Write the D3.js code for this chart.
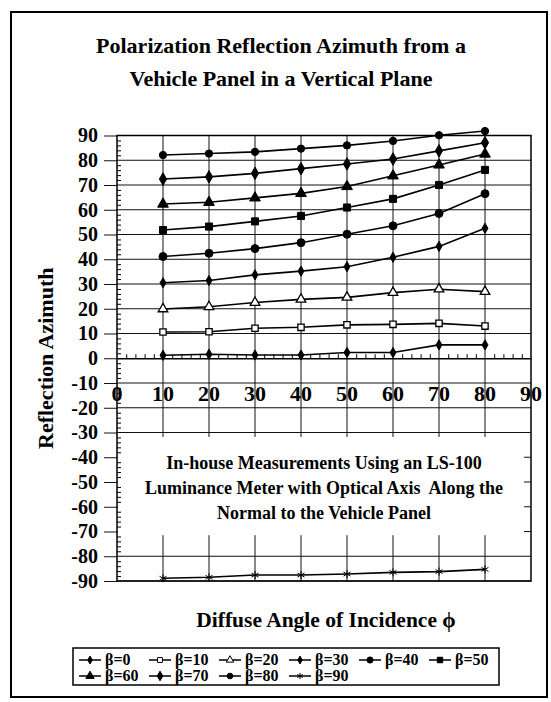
<!DOCTYPE html>
<html>
<head>
<meta charset="utf-8">
<style>
  body { margin: 0; background: #fff; }
  svg { display: block; font-family: 'Liberation Serif', 'Times New Roman', serif; font-weight: bold; }
  .grid line { stroke: #111; stroke-width: 1; }
  .series { fill: none; stroke: #000; stroke-width: 1.6; }
</style>
</head>
<body>
<svg id="chart" width="551" height="702"></svg>
<script src="https://d3js.org/d3.v7.min.js"></script>
<script>
// diffuse angle of incidence (x)
const angles = [10, 20, 30, 40, 50, 60, 70, 80];
// beta values for each series
const betas = [0, 10, 20, 30, 40, 50, 60, 70, 80, 90];
// reflection azimuth
const beta0  = [1.2, 1.6, 1.3, 1.3, 2.3, 2.3, 5.4, 5.4];
const beta10 = [10.6, 10.7, 12.1, 12.5, 13.5, 13.7, 14.1, 13.0];
const beta20 = [19.9, 20.8, 22.5, 23.8, 24.6, 26.5, 27.9, 26.9];
const beta30 = [30.5, 31.4, 33.7, 35.2, 37.0, 40.8, 45.2, 52.5];
const beta40 = [41.1, 42.4, 44.3, 46.7, 50.1, 53.5, 58.5, 66.5];
const beta50 = [51.8, 53.2, 55.3, 57.5, 60.9, 64.4, 70.0, 76.1];
const beta60 = [62.3, 63.0, 64.8, 66.6, 69.4, 73.7, 78.1, 82.5];
const beta70 = [72.4, 73.3, 74.7, 76.6, 78.5, 80.5, 83.8, 87.1];
const beta80 = [82.1, 82.7, 83.4, 84.7, 86.0, 87.8, 90.1, 91.8];
const beta90 = [-88.9, -88.5, -87.6, -87.6, -87.2, -86.5, -86.2, -85.3];
const seriesValues = [beta0, beta10, beta20, beta30, beta40, beta50, beta60, beta70, beta80, beta90];

const xTicks = [0, 10, 20, 30, 40, 50, 60, 70, 80, 90];
const yTicks = [90, 80, 70, 60, 50, 40, 30, 20, 10, 0, -10, -20, -30, -40, -50, -60, -70, -80, -90];

const titleLines = ["Polarization Reflection Azimuth from a", "Vehicle Panel in a Vertical Plane"];
const noteLines = ["In-house Measurements Using an LS-100",
                   "Luminance Meter with Optical Axis  Along the",
                   "Normal to the Vehicle Panel"];

// marker look per series (style, not data)
const markers = [
  {sym: d3.symbolDiamond, size: 30, fill: "#000"},
  {sym: d3.symbolSquare, size: 40, fill: "#fff"},
  {sym: d3.symbolTriangle, size: 40, fill: "#fff"},
  {sym: d3.symbolDiamond, size: 30, fill: "#000"},
  {sym: d3.symbolCircle, size: 50, fill: "#000"},
  {sym: d3.symbolSquare, size: 50, fill: "#000"},
  {sym: d3.symbolTriangle, size: 50, fill: "#000"},
  {sym: d3.symbolDiamond, size: 45, fill: "#000"},
  {sym: d3.symbolCircle, size: 42, fill: "#000"},
  {sym: d3.symbolAsterisk, size: 45, fill: "none"}
];

const svg = d3.select("#chart");

const x = d3.scaleLinear().domain([0, 90]).range([117, 531]);
const y = d3.scaleLinear().domain([-90, 90]).range([581, 135.5]);

// outer frame
svg.append("rect")
  .attr("x", 11).attr("y", 12).attr("width", 536).attr("height", 685)
  .attr("fill", "none").attr("stroke", "#000").attr("stroke-width", 2);

// title
svg.append("g").selectAll("text")
  .data(titleLines)
  .join("text")
  .attr("x", 281)
  .attr("y", (d, i) => 53 + i * 33)
  .attr("text-anchor", "middle")
  .attr("font-size", "22px")
  .text(d => d);

// grid
const grid = svg.append("g").attr("class", "grid");
grid.selectAll(".h")
  .data(yTicks.filter(v => v !== 0))
  .join("line")
  .attr("x1", x(0)).attr("x2", x(90))
  .attr("y1", d => y(d)).attr("y2", d => y(d));
grid.selectAll(".v")
  .data(xTicks.filter(v => v > 0 && v < 90))
  .join("line")
  .attr("x1", d => x(d)).attr("x2", d => x(d))
  .attr("y1", y(90)).attr("y2", y(-90));

// white box behind the note
svg.append("rect")
  .attr("x", x(0) + 1).attr("y", y(-31.8))
  .attr("width", x(88.5) - x(0) - 1)
  .attr("height", y(-71.5) - y(-31.8))
  .attr("fill", "#fff");

// y axis, major ticks outside
const minorY = d3.range(-88, 89, 2).filter(v => v % 10 !== 0);
svg.append("g")
  .attr("transform", `translate(${x(0)},0)`)
  .call(d3.axisLeft(y).tickValues(yTicks).tickSize(13).tickPadding(6).tickFormat(d => String(d)))
  .call(g => g.select(".domain").remove())
  .call(g => g.selectAll(".tick line").attr("stroke", "#111"))
  .call(g => g.selectAll("text")
    .attr("font-family", "'Liberation Serif', 'Times New Roman', serif")
    .attr("font-weight", "bold")
    .attr("font-size", "20px")
    .attr("fill", "#000"));
// y minor ticks inside
svg.append("g")
  .attr("transform", `translate(${x(0)},0)`)
  .call(d3.axisRight(y).tickValues(minorY).tickSize(4).tickFormat(""))
  .call(g => g.select(".domain").remove());

// x axis along zero with minor ticks upward
const minorX = d3.range(2, 90, 2).filter(v => v % 10 !== 0);
svg.append("g")
  .attr("transform", `translate(0,${y(0)})`)
  .call(d3.axisTop(x).tickValues(minorX).tickSize(4).tickSizeOuter(0).tickFormat(""))
  .call(g => g.select(".domain").attr("stroke-width", 1.3));

// x tick labels
svg.append("g").selectAll("text")
  .data(xTicks)
  .join("text")
  .attr("x", d => x(d))
  .attr("y", 401)
  .attr("text-anchor", "middle")
  .attr("font-size", "22px")
  .text(d => d);

// series
const line = d3.line().x((d, i) => x(angles[i])).y(d => y(d));
const sg = svg.append("g");
seriesValues.forEach((vals, k) => {
  sg.append("path").attr("class", "series").attr("d", line(vals));
  const m = markers[k];
  sg.append("g").selectAll("path")
    .data(vals)
    .join("path")
    .attr("transform", (d, i) => `translate(${x(angles[i])},${y(d)})`)
    .attr("d", d3.symbol().type(m.sym).size(m.size))
    .attr("fill", m.fill)
    .attr("stroke", "#000")
    .attr("stroke-width", m.fill === "#fff" ? 1.3 : 1);
});

// plot frame
svg.append("rect")
  .attr("x", x(0)).attr("y", y(90))
  .attr("width", x(90) - x(0)).attr("height", y(-90) - y(90))
  .attr("fill", "none").attr("stroke", "#000").attr("stroke-width", 1.5);

// note text
svg.append("g").selectAll("text")
  .data(noteLines)
  .join("text")
  .attr("x", 324)
  .attr("y", (d, i) => 469 + i * 25)
  .attr("text-anchor", "middle")
  .attr("font-size", "18px")
  .style("white-space", "pre")
  .text(d => d);

// axis titles
svg.append("text")
  .attr("transform", `translate(53,${(y(90) + y(-90)) / 2}) rotate(-90)`)
  .attr("text-anchor", "middle")
  .attr("font-size", "22px")
  .text("Reflection Azimuth");

svg.append("text")
  .attr("x", 326).attr("y", 627)
  .attr("text-anchor", "middle")
  .attr("font-size", "21.5px")
  .text("Diffuse Angle of Incidence \u03d5");

// legend
const legend = svg.append("g");
legend.append("rect")
  .attr("x", 73).attr("y", 648).attr("width", 426).attr("height", 37)
  .attr("fill", "#fff").attr("stroke", "#000").attr("stroke-width", 1.5);
const entry = legend.selectAll(".entry")
  .data(betas)
  .join("g")
  .attr("transform", (d, i) => `translate(${79 + (i % 6) * 70},${660 + Math.floor(i / 6) * 16})`);
entry.append("line")
  .attr("x1", 0).attr("x2", 22).attr("y1", 0).attr("y2", 0)
  .attr("stroke", "#000").attr("stroke-width", 1.5);
entry.append("path")
  .attr("transform", "translate(11,0)")
  .attr("d", (d, i) => d3.symbol().type(markers[i].sym).size(markers[i].size * 0.6)())
  .attr("fill", (d, i) => markers[i].fill)
  .attr("stroke", "#000").attr("stroke-width", 1);
entry.append("text")
  .attr("x", 26).attr("y", 5)
  .attr("font-size", "16px")
  .text(d => "\u03b2=" + d);
</script>
</body>
</html>
